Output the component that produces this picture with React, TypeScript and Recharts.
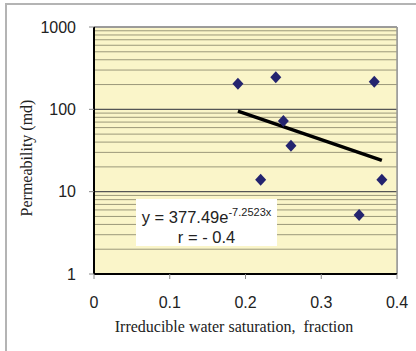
import {
  ScatterChart,
  Scatter,
  XAxis,
  YAxis,
  CartesianGrid,
  ReferenceLine,
} from "recharts";

const satX = [0.19, 0.24, 0.37, 0.25, 0.26, 0.22, 0.38, 0.35];
const permY = [205, 245, 217, 72, 36, 14, 14, 5.2];
const trendX = [0.19, 0.38];
const trendY = [95, 24];
const xTicks = [0, 0.1, 0.2, 0.3, 0.4];
const yTicks = [1, 10, 100, 1000];
const minorY = [
  2, 3, 4, 5, 6, 7, 8, 9, 20, 30, 40, 50, 60, 70, 80, 90, 200, 300, 400, 500,
  600, 700, 800, 900,
];

const points = satX.map((x, i) => ({ x, y: permY[i] }));
const trend = trendX.map((x, i) => ({ x, y: trendY[i] }));

const sans = "'Liberation Sans', Arial, sans-serif";
const serif = "'Liberation Serif', 'Times New Roman', serif";

function Diamond(props: any) {
  const { cx, cy } = props;
  if (cx == null || cy == null) return <g />;
  return (
    <polygon
      points={`${cx},${cy - 6} ${cx + 5.5},${cy} ${cx},${cy + 6} ${cx - 5.5},${cy}`}
      fill="#24246f"
    />
  );
}

export default function App() {
  return (
    <div
      style={{
        position: "absolute",
        left: 0,
        top: 0,
        width: 416,
        height: 351,
        overflow: "hidden",
        background: "#fff",
      }}
    >
      {/* outer frame */}
      <div
        style={{
          position: "absolute",
          left: 5,
          top: 3,
          width: 430,
          height: 370,
          borderLeft: "2px solid #b4b4b4",
          borderTop: "2px solid #b4b4b4",
        }}
      />
      <ScatterChart
        width={416}
        height={351}
        margin={{ top: 27, right: 19, bottom: 0, left: 0 }}
        style={{ position: "absolute", left: 0, top: 0 }}
      >
        <rect x={94} y={27} width={303} height={247} fill="#faf5c9" />
        {minorY.map((v) => (
          <ReferenceLine
            key={v}
            y={v}
            stroke="#9b987a"
            strokeWidth={1}
            ifOverflow="extendDomain"
          />
        ))}
        {yTicks.map((v) => (
          <ReferenceLine key={"m" + v} y={v} stroke="#555" strokeWidth={1.2} />
        ))}
        <CartesianGrid horizontal={false} stroke="#6b6b5a" strokeWidth={1} />
        <ReferenceLine x={0.4} stroke="#999" strokeWidth={1.5} />
        <ReferenceLine y={1000} stroke="#999" strokeWidth={1.5} />
        <XAxis
          type="number"
          dataKey="x"
          domain={[0, 0.4]}
          ticks={xTicks}
          tickFormatter={(v) => String(v)}
          height={77}
          axisLine={{ stroke: "#000", strokeWidth: 2 }}
          tickLine={{ stroke: "#888" }}
          tickSize={5}
          tickMargin={18}
          tick={{ fill: "#222", fontSize: 16, fontFamily: sans }}
          allowDataOverflow
        />
        <YAxis
          type="number"
          dataKey="y"
          scale="log"
          domain={[1, 1000]}
          ticks={yTicks}
          width={94}
          axisLine={{ stroke: "#000", strokeWidth: 2 }}
          tickLine={{ stroke: "#888" }}
          tickSize={5}
          tickMargin={13}
          tick={{ fill: "#222", fontSize: 16, fontFamily: sans }}
          allowDataOverflow
        />
        <Scatter
          data={trend}
          line={{ stroke: "#000", strokeWidth: 3.5 }}
          shape={() => <g />}
          isAnimationActive={false}
        />
        <Scatter data={points} shape={Diamond} isAnimationActive={false} />
      </ScatterChart>

      {/* equation box */}
      <div
        style={{
          position: "absolute",
          left: 136,
          top: 199,
          width: 141,
          height: 47,
          background: "#fff",
          fontFamily: sans,
          color: "#222",
          textAlign: "center",
        }}
      >
        <div style={{ fontSize: 16.5, lineHeight: "20px", marginTop: 3 }}>
          y = 377.49e
          <span style={{ fontSize: 11, verticalAlign: "7px" }}>-7.2523x</span>
        </div>
        <div style={{ fontSize: 16.5, lineHeight: "20px" }}>r = - 0.4</div>
      </div>

      {/* axis titles */}
      <div
        style={{
          position: "absolute",
          left: 27,
          top: 158,
          transform: "translate(-50%, -50%) rotate(-90deg)",
          whiteSpace: "nowrap",
          fontFamily: serif,
          fontSize: 16,
          color: "#222",
        }}
      >
        Permeability (md)
      </div>
      <div
        style={{
          position: "absolute",
          left: 234,
          top: 327,
          transform: "translate(-50%, -50%)",
          whiteSpace: "nowrap",
          fontFamily: serif,
          fontSize: 16,
          color: "#222",
        }}
      >
        Irreducible water saturation,&nbsp; fraction
      </div>
    </div>
  );
}
